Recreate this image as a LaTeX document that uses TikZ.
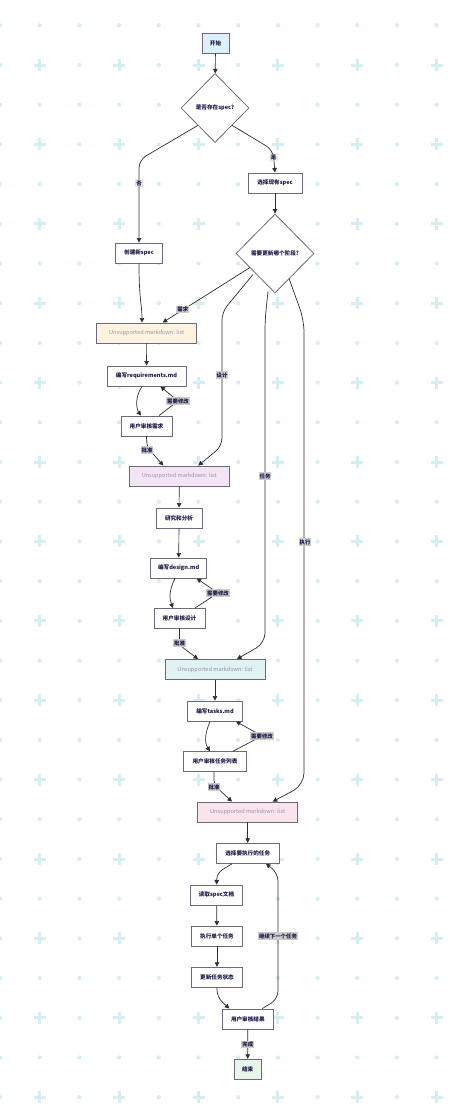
\documentclass[tikz,border=0pt]{standalone}
\usepackage{fontspec}
\setmainfont{Noto Sans CJK SC}
\usetikzlibrary{shapes.geometric,arrows.meta}
\definecolor{bgdot}{HTML}{D6EEF2}
\definecolor{edge}{HTML}{2E2E2E}
\definecolor{nborder}{HTML}{6A6A7E}
\definecolor{ntext}{HTML}{1A1A48}
\definecolor{lblbg}{HTML}{CCCCCC}
\definecolor{cstart}{HTML}{DDF0FB}
\definecolor{cend}{HTML}{E8F5E9}
\definecolor{cmdA}{HTML}{FFF3E0}
\definecolor{cmdB}{HTML}{F3E5F5}
\definecolor{cmdC}{HTML}{E0F2F1}
\definecolor{cmdD}{HTML}{FCE4EC}
\definecolor{mdtext}{HTML}{9A90A8}
\tikzset{
  box/.style={draw=nborder, line width=0.95pt, fill=white, minimum height=20, inner sep=0pt, font=\fontsize{5.6}{6}\selectfont\bfseries, text=ntext},
  dia/.style={draw=nborder, line width=0.8pt, fill=white, diamond, inner sep=0pt, font=\fontsize{5.6}{6}\selectfont\bfseries, text=ntext},
  mdbox/.style={box, minimum width=100, text=mdtext, font=\fontsize{5.6}{6}\selectfont},
  conn/.style={draw=edge, line width=0.7pt, -{Triangle[length=4.5pt,width=4.5pt]}},
  lbl/.style={fill=lblbg, inner sep=1pt, font=\fontsize{5.4}{6}\selectfont\bfseries, text=ntext},
}
\begin{document}
\begin{tikzpicture}[x=1pt,y=-1pt]
\path[fill=white] (0,0) rectangle (454,1117);
\useasboundingbox (0,0) rectangle (454,1117);
% background pattern
\foreach \i in {0,...,11}{
  \foreach \j in {0,...,27}{
    \pgfmathsetmacro{\px}{\i*39.7}
    \pgfmathsetmacro{\py}{25.3+\j*39.7}
    \pgfmathtruncatemacro{\isplus}{mod(\i,2)*mod(\j,2)}
    \ifnum\isplus=1
      \fill[bgdot] (\px-6,\py-1.5) rectangle (\px+6,\py+1.5);
      \fill[bgdot] (\px-1.5,\py-6) rectangle (\px+1.5,\py+6);
    \else
      \fill[bgdot] (\px,\py) circle (2.1);
    \fi
  }
}
% nodes
\node[box, fill=cstart, minimum width=27] (start) at (215.5,43) {开始};
\node[dia, minimum width=68, minimum height=69] (d1) at (215,108) {是否存在spec?};
\node[box, minimum width=54] (existing) at (275,183) {选择现有spec};
\node[box, minimum width=47] (create) at (139,253) {创建新spec};
\node[dia, minimum width=78, minimum height=79] (d2) at (275,253.5) {需要更新哪个阶段?};
\node[mdbox, fill=cmdA] (md1) at (146.7,333) {Unsupported markdown: list};
\node[box, minimum width=79] (req) at (146.5,376) {编写requirements.md};
\node[box, minimum width=51] (revreq) at (146.5,426) {用户审核需求};
\node[mdbox, fill=cmdB] (md2) at (179.3,476) {Unsupported markdown: list};
\node[box, minimum width=46] (research) at (179,518) {研究和分析};
\node[box, minimum width=56] (design) at (178.7,568) {编写design.md};
\node[box, minimum width=51] (revdes) at (179.5,618.5) {用户审核设计};
\node[mdbox, fill=cmdC] (md3) at (215,669.5) {Unsupported markdown: list};
\node[box, minimum width=55] (tasks) at (215,711) {编写tasks.md};
\node[box, minimum width=63] (revtask) at (215,761.7) {用户审核任务列表};
\node[mdbox, fill=cmdD] (md4) at (247.7,812) {Unsupported markdown: list};
\node[box, minimum width=63] (select) at (247.7,853.3) {选择要执行的任务};
\node[box, minimum width=52] (read) at (216.5,895) {读取spec文档};
\node[box, minimum width=51] (exec) at (217,936) {执行单个任务};
\node[box, minimum width=51] (update) at (217,977.3) {更新任务状态};
\node[box, minimum width=51] (revres) at (247.8,1019) {用户审核结果};
\node[box, fill=cend, minimum width=27] (end) at (247.7,1069.3) {结束};
% connectors
\draw[conn] (start) -- (d1);
\draw[conn, rounded corners=8] (d1.south west) -- (139,160) -- (create.north) node[lbl, pos=0.28] {否};
\draw[conn, rounded corners=8] (d1.south east) -- (273,150) -- (existing.north) node[lbl, pos=0.34] {是};
\draw[conn] (existing) -- (d2);
\draw[conn] (create.south) .. controls (139,300) and (142,305) .. ([xshift=-4.7]md1.north);
\draw[conn] ([shift={(-25,14)}]d2.center) -- ([xshift=16]md1.north) node[lbl, pos=0.77] {需求};
\draw[conn] (md1) -- (req);
\draw[conn] ([xshift=-4.5]req.south) .. controls (134,398) and (137,410) .. ([xshift=-5.5]revreq.north);
\draw[conn, rounded corners=6] ([xshift=12.5]revreq.north) -- (178,401) -- ([xshift=14]req.south);
\node[lbl] (l1) at (178,401) {需要修改};
\draw[conn, rounded corners=5] (revreq.south) -- (147,447) -- ([xshift=-16]md2.north);
\node[lbl] (l2) at (147,450) {批准};
\draw[conn, rounded corners=8] ([shift={(-22,21)}]d2.center) -- (222,312) -- (222,446) -- ([xshift=19]md2.north);
\node[lbl] (l3) at (222,375) {设计};
\draw[conn] (md2) -- (research);
\draw[conn] (research) -- (design);
\draw[conn] ([xshift=-3.7]design.south) .. controls (168,592) and (170,600) .. ([xshift=-6.5]revdes.north);
\draw[conn, rounded corners=6] ([xshift=15.5]revdes.north) -- (218,593) -- ([xshift=18]design.south);
\node[lbl] (l4) at (218,593) {需要修改};
\draw[conn, rounded corners=5] (revdes.south) -- (179.5,645) -- ([xshift=-17]md3.north);
\node[lbl] (l5) at (179.5,643) {批准};
\draw[conn, rounded corners=10] ([shift={(-7,38)}]d2.center) -- (265,320) -- (265,643) -- ([xshift=22]md3.north);
\node[lbl] (l6) at (265,476) {任务};
\draw[conn] (md3) -- (tasks);
\draw[conn] ([xshift=-5]tasks.south) .. controls (203,738) and (206,745) .. ([xshift=-5]revtask.north);
\draw[conn, rounded corners=6] ([xshift=18]revtask.north) -- (262,736) -- ([xshift=21]tasks.south);
\node[lbl] (l7) at (262,736) {需要修改};
\draw[conn, rounded corners=5] ([xshift=-1]revtask.south) -- (214,785) -- ([xshift=-15.7]md4.north);
\node[lbl] (l8) at (214,787) {批准};
\draw[conn, rounded corners=12] ([shift={(14,25)}]d2.center) -- (304,320) -- (304,785) -- ([xshift=25]md4.north);
\node[lbl] (l9) at (305,542) {执行};
\draw[conn] (md4) -- (select);
\draw[conn, rounded corners=6] ([xshift=-15.7]select.south) -- (217,873) -- (read.north);
\draw[conn] (read) -- (exec);
\draw[conn] (exec) -- (update);
\draw[conn, rounded corners=7] (update.south) -- (217,997) -- ([xshift=-18.5]revres.north);
\draw[conn, rounded corners=8] ([xshift=14.5]revres.north) -- (278,999) -- (278,873) -- ([xshift=18.3]select.south);
\node[lbl] (l10) at (278,936) {继续下一个任务};
\draw[conn] (revres) -- (end) node[lbl, midway] {完成};
\end{tikzpicture}
\end{document}
